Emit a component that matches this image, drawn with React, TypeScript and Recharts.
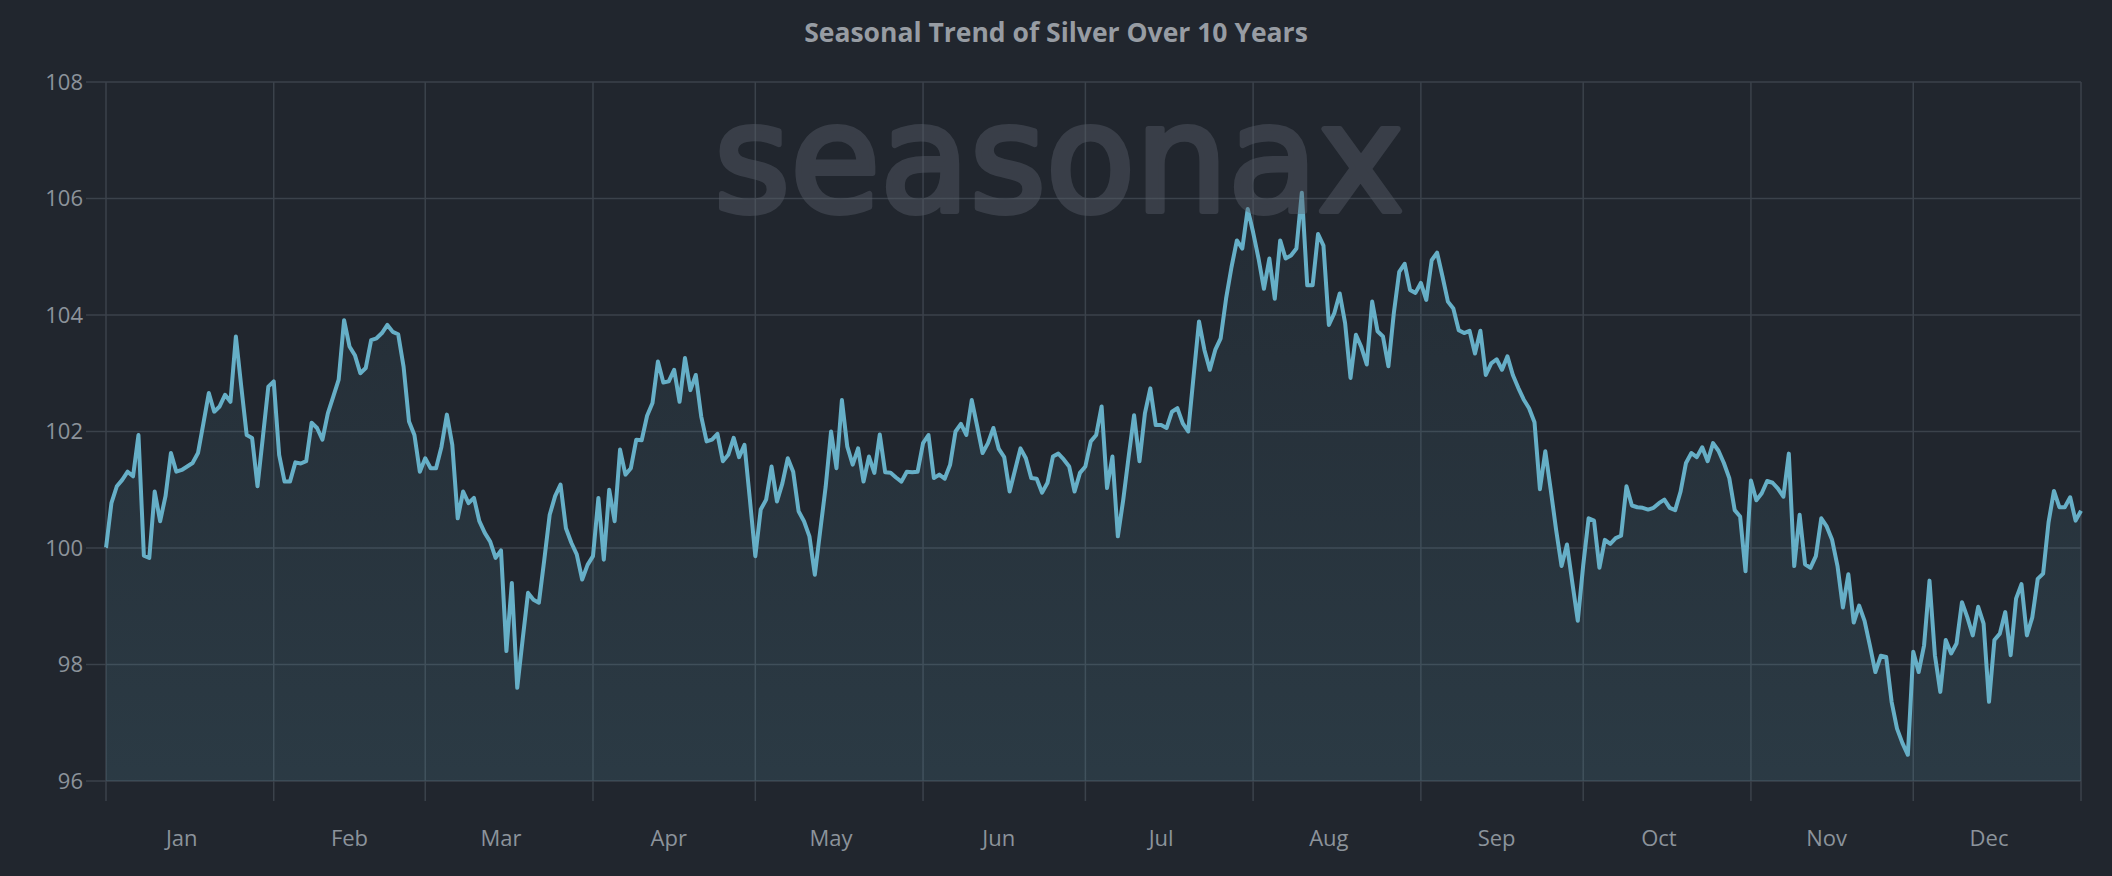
import { Area, AreaChart, CartesianGrid, XAxis, YAxis } from "recharts";

const monthNames = ["Jan", "Feb", "Mar", "Apr", "May", "Jun", "Jul", "Aug", "Sep", "Oct", "Nov", "Dec"];
const monthStarts = [0, 31, 59, 90, 120, 151, 181, 212, 243, 273, 304, 334, 365];
const labelOffsetDays = 14;
const yTicks = [96, 98, 100, 102, 104, 106, 108];

// seasonal index, one value per calendar day (start of year = 100)
const jan = [
  100.0, 100.77, 101.06, 101.17, 101.31, 101.23, 101.94, 99.87, 99.83, 100.97, 100.46,
  100.89, 101.63, 101.31, 101.34, 101.4, 101.46, 101.63, 102.14, 102.66, 102.34, 102.43,
  102.63, 102.51, 103.63, 102.77, 101.94, 101.89, 101.06, 101.91, 102.77,
];
const feb = [
  102.86, 101.6, 101.14, 101.14, 101.47, 101.45, 101.49, 102.15, 102.06, 101.86, 102.31,
  102.6, 102.89, 103.91, 103.46, 103.31, 103.0, 103.09, 103.57, 103.6, 103.69, 103.83,
  103.71, 103.67, 103.11, 102.17, 101.94, 101.31,
];
const mar = [
  101.54, 101.37, 101.37, 101.74, 102.29, 101.77, 100.51, 100.97, 100.77, 100.86, 100.46,
  100.26, 100.11, 99.83, 99.96, 98.23, 99.4, 97.6, 98.43, 99.23, 99.11, 99.06, 99.8,
  100.57, 100.89, 101.09, 100.34, 100.09, 99.89, 99.46, 99.71,
];
const apr = [
  99.86, 100.86, 99.8, 101.0, 100.46, 101.69, 101.26, 101.37, 101.86, 101.85, 102.27,
  102.49, 103.2, 102.84, 102.86, 103.06, 102.51, 103.26, 102.71, 102.97, 102.26, 101.83,
  101.86, 101.96, 101.49, 101.6, 101.89, 101.56, 101.77, 100.83,
];
const may = [
  99.86, 100.66, 100.83, 101.4, 100.8, 101.11, 101.54, 101.31, 100.63, 100.46, 100.2,
  99.54, 100.3, 101.05, 102.0, 101.37, 102.54, 101.74, 101.43, 101.71, 101.14, 101.57,
  101.29, 101.95, 101.3, 101.29, 101.21, 101.14, 101.31, 101.3, 101.31,
];
const jun = [
  101.8, 101.94, 101.2, 101.26, 101.19, 101.43, 102.0, 102.13, 101.94, 102.54, 102.09,
  101.63, 101.8, 102.06, 101.7, 101.56, 100.97, 101.34, 101.71, 101.54, 101.2, 101.19,
  100.95, 101.12, 101.57, 101.62, 101.52, 101.4, 100.97, 101.29,
];
const jul = [
  101.4, 101.83, 101.94, 102.43, 101.03, 101.57, 100.2, 100.83, 101.57, 102.28, 101.49,
  102.31, 102.74, 102.11, 102.11, 102.06, 102.34, 102.4, 102.14, 102.0, 102.95, 103.89,
  103.4, 103.06, 103.4, 103.6, 104.28, 104.82, 105.28, 105.14, 105.82,
];
const aug = [
  105.42, 104.97, 104.45, 104.97, 104.28, 105.28, 104.97, 105.02, 105.14, 106.1, 104.51,
  104.51, 105.39, 105.19, 103.83, 104.03, 104.37, 103.86, 102.92, 103.66, 103.45, 103.15,
  104.23, 103.72, 103.63, 103.12, 104.03, 104.74, 104.88, 104.43, 104.38,
];
const sep = [
  104.55, 104.26, 104.94, 105.07, 104.66, 104.23, 104.11, 103.74, 103.69, 103.73, 103.34,
  103.73, 102.97, 103.17, 103.24, 103.06, 103.29, 102.97, 102.75, 102.55, 102.4, 102.16,
  101.01, 101.66, 101.0, 100.31, 99.69, 100.06, 99.4, 98.75,
];
const oct = [
  99.7, 100.51, 100.47, 99.66, 100.14, 100.07, 100.17, 100.21, 101.06, 100.73, 100.7,
  100.69, 100.66, 100.69, 100.77, 100.83, 100.69, 100.65, 100.97, 101.46, 101.63, 101.56,
  101.73, 101.49, 101.8, 101.67, 101.46, 101.2, 100.65, 100.54, 99.6,
];
const nov = [
  101.16, 100.82, 100.94, 101.15, 101.12, 101.02, 100.88, 101.62, 99.69, 100.57, 99.72,
  99.66, 99.86, 100.51, 100.37, 100.14, 99.69, 98.98, 99.55, 98.72, 99.01, 98.75, 98.32,
  97.87, 98.15, 98.13, 97.36, 96.9, 96.65, 96.45,
];
// last entry is the year-end close
const dec = [
  98.22, 97.87, 98.33, 99.44, 98.16, 97.53, 98.42, 98.19, 98.36, 99.07, 98.81, 98.5,
  98.99, 98.7, 97.36, 98.42, 98.53, 98.9, 98.16, 99.13, 99.38, 98.5, 98.81, 99.47, 99.56,
  100.44, 100.98, 100.7, 100.7, 100.87, 100.47, 100.64,
];

const values = [...jan, ...feb, ...mar, ...apr, ...may, ...jun, ...jul, ...aug, ...sep, ...oct, ...nov, ...dec];
const data = values.map((value, day) => ({ day, value }));
const labelTicks = monthNames.map((_, i) => monthStarts[i] + labelOffsetDays);

const bg = "#21262e";
const gridColor = "#3b424b";
const textColor = "#8c939b";

// grid axis draws only the tick marks, labels come from the "months" axis
const NoLabel = () => <g />;

export default function App() {
  return (
    <div
      style={{
        position: "absolute",
        left: 0,
        top: 0,
        width: 2112,
        height: 876,
        background: bg,
        fontFamily: "'Open Sans', sans-serif",
      }}
    >
      <div
        style={{
          position: "absolute",
          top: 14,
          width: "100%",
          textAlign: "center",
          fontWeight: 700,
          fontSize: 26.5,
          color: "#979ca3",
        }}
      >
        Seasonal Trend of Silver Over 10 Years
      </div>
      <AreaChart width={2112} height={876} data={data} margin={{ top: 82, right: 31, bottom: 0, left: 0 }}>
        <defs>
          <linearGradient id="silverFill" x1="0" y1="0" x2="0" y2="1">
            <stop offset="0%" stopColor="#5fa3b8" stopOpacity={0.08} />
            <stop offset="100%" stopColor="#5fa3b8" stopOpacity={0.27} />
          </linearGradient>
        </defs>
        <CartesianGrid xAxisId="grid" stroke={gridColor} strokeWidth={1.5} />
        <XAxis
          xAxisId="grid"
          dataKey="day"
          type="number"
          domain={[0, 365]}
          ticks={monthStarts}
          interval={0}
          tick={NoLabel}
          tickLine={{ stroke: gridColor, strokeWidth: 1.5 }}
          tickSize={20}
          axisLine={false}
          height={20}
        />
        <XAxis
          xAxisId="months"
          type="number"
          domain={[0, 365]}
          allowDataOverflow
          ticks={labelTicks}
          interval={0}
          tickFormatter={(v) => monthNames[labelTicks.indexOf(v)]}
          tick={{ fill: textColor, fontSize: 22 }}
          tickLine={false}
          tickSize={0}
          tickMargin={29}
          axisLine={false}
          height={75}
        />
        <YAxis
          domain={[96, 108]}
          ticks={yTicks}
          interval={0}
          width={106}
          tick={{ fill: textColor, fontSize: 22 }}
          tickLine={{ stroke: gridColor, strokeWidth: 1.5 }}
          tickSize={20}
          tickMargin={3}
          axisLine={false}
        />
        <Area
          xAxisId="grid"
          type="linear"
          dataKey="value"
          stroke="#66afc7"
          strokeWidth={4}
          strokeLinejoin="round"
          fill="url(#silverFill)"
          isAnimationActive={false}
        />
      </AreaChart>
      <svg width={2112} height={876} style={{ position: "absolute", left: 0, top: 0, pointerEvents: "none" }}>
        <g opacity={0.42}>
          <text
            x={714}
            y={211}
            fontSize={150}
            fontFamily="'DejaVu Sans', sans-serif"
            textLength={690}
            lengthAdjust="spacingAndGlyphs"
            fill="#5b616c"
            stroke="#5b616c"
            strokeWidth={6}
            strokeLinejoin="round"
          >
            seasonax
          </text>
        </g>
      </svg>
    </div>
  );
}
